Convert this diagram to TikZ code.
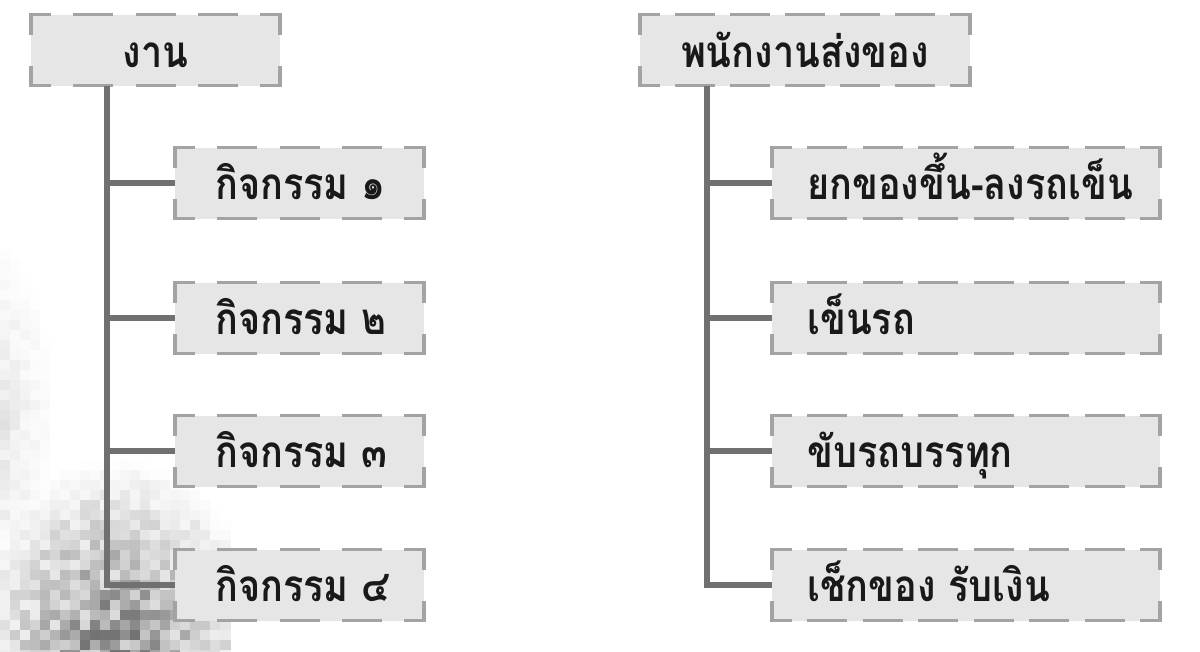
\documentclass[tikz,border=0pt]{standalone}
\usepackage{fontspec}
\newfontfamily\thaifont[Script=Thai,FakeStretch=0.86]{Loma}
\definecolor{boxfill}{HTML}{E6E6E6}
\definecolor{boxedge}{HTML}{A3A3A3}
\definecolor{linkc}{HTML}{707070}
\tikzset{
  box/.style={fill=boxfill, minimum height=71pt, inner sep=0pt, outer sep=0pt},
  link/.style={draw=linkc, line width=5.5pt},
  boxside/.style={draw=boxedge, line width=3.5pt, line cap=rect},
  lbl/.style={inner sep=0pt, font=\thaifont\bfseries\fontsize{44}{46}\selectfont, text=black!90}
}
\newcommand{\myside}[3]{%
  \pgfmathsetmacro{\nper}{max(1,round(#3/58))}%
  \pgfmathsetmacro{\per}{#3/\nper}%
  \pgfmathsetmacro{\doff}{\per-36.5}%
  \draw[boxside, dash pattern=on 36.5pt off \doff pt, dash phase=18.25pt] #1 -- #2;%
}
\newcommand{\mybox}[3]{%
  \myside{(#1.north west)}{(#1.north east)}{#2}%
  \myside{(#1.north east)}{(#1.south east)}{#3}%
  \myside{(#1.south east)}{(#1.south west)}{#2}%
  \myside{(#1.south west)}{(#1.north west)}{#3}%
}
\begin{document}
\begin{tikzpicture}[x=1pt,y=-1pt]
\useasboundingbox (0,0) rectangle (1200,651);
\fill[white] (0,0) rectangle (1200,651);
% background texture
\pgfmathsetseed{11}
\foreach \i in {0,...,22}{
  \foreach \j in {0,...,40}{
    \pgfmathsetmacro{\cx}{\i*10}
    \pgfmathsetmacro{\cy}{250+\j*10}
    \pgfmathsetmacro{\dd}{100*sqrt(((\cx-110)/100)^2+((\cy-650)/130)^2)}
    \pgfmathsetmacro{\ee}{100*sqrt(((\cx+20)/70)^2+((\cy-420)/190)^2)}
    \pgfmathsetmacro{\kk}{max(0,min(55,max((1-\dd/150)*70,(1-\ee/100)*18)*(0.25+0.75*rnd)))}
    \fill[black!\kk] (\cx,\cy) rectangle ++(10.5,10.5);
  }
}
% left tree
\node[box, minimum width=249pt] (L0) at (155.5,50) {};
\node[box, minimum width=249pt] (L1) at (299.5,183) {};
\node[box, minimum width=249pt] (L2) at (299.5,318) {};
\node[box, minimum width=249pt] (L3) at (299.5,451) {};
\node[box, minimum width=249pt] (L4) at (299.5,585) {};
\mybox{L0}{249}{71}
\mybox{L1}{249}{71}
\mybox{L2}{249}{71}
\mybox{L3}{249}{71}
\mybox{L4}{249}{71}
\node[lbl, anchor=base] (tL0) at ([yshift=-17pt]L0.center) {งาน};
\node[lbl, anchor=base west] (tL1) at ([xshift=40pt,yshift=-16pt]L1.west) {กิจกรรม ๑};
\node[lbl, anchor=base west] (tL2) at ([xshift=40pt,yshift=-16pt]L2.west) {กิจกรรม ๒};
\node[lbl, anchor=base west] (tL3) at ([xshift=40pt,yshift=-16pt]L3.west) {กิจกรรม ๓};
\node[lbl, anchor=base west] (tL4) at ([xshift=40pt,yshift=-16pt]L4.west) {กิจกรรม ๔};
\coordinate (lv) at (107,85.5);
\draw[link] (lv) |- (L4.west);
\draw[link] (lv |- L1.west) -- (L1.west);
\draw[link] (lv |- L2.west) -- (L2.west);
\draw[link] (lv |- L3.west) -- (L3.west);
% right tree
\node[box, minimum width=330pt] (R0) at (805,50) {};
\node[box, minimum width=388pt] (R1) at (966,183) {};
\node[box, minimum width=388pt] (R2) at (966,318) {};
\node[box, minimum width=388pt] (R3) at (966,451) {};
\node[box, minimum width=388pt] (R4) at (966,585) {};
\mybox{R0}{330}{71}
\mybox{R1}{388}{71}
\mybox{R2}{388}{71}
\mybox{R3}{388}{71}
\mybox{R4}{388}{71}
\node[lbl, anchor=base] (tR0) at ([yshift=-17pt]R0.center) {พนักงานส่งของ};
\node[lbl, anchor=base west] (tR1) at ([xshift=35pt,yshift=-16pt]R1.west) {ยกของขึ้น-ลงรถเข็น};
\node[lbl, anchor=base west] (tR2) at ([xshift=35pt,yshift=-16pt]R2.west) {เข็นรถ};
\node[lbl, anchor=base west] (tR3) at ([xshift=35pt,yshift=-16pt]R3.west) {ขับรถบรรทุก};
\node[lbl, anchor=base west] (tR4) at ([xshift=35pt,yshift=-16pt]R4.west) {เช็กของ รับเงิน};
\coordinate (rv) at (707,85.5);
\draw[link] (rv) |- (R4.west);
\draw[link] (rv |- R1.west) -- (R1.west);
\draw[link] (rv |- R2.west) -- (R2.west);
\draw[link] (rv |- R3.west) -- (R3.west);
\end{tikzpicture}
\end{document}
